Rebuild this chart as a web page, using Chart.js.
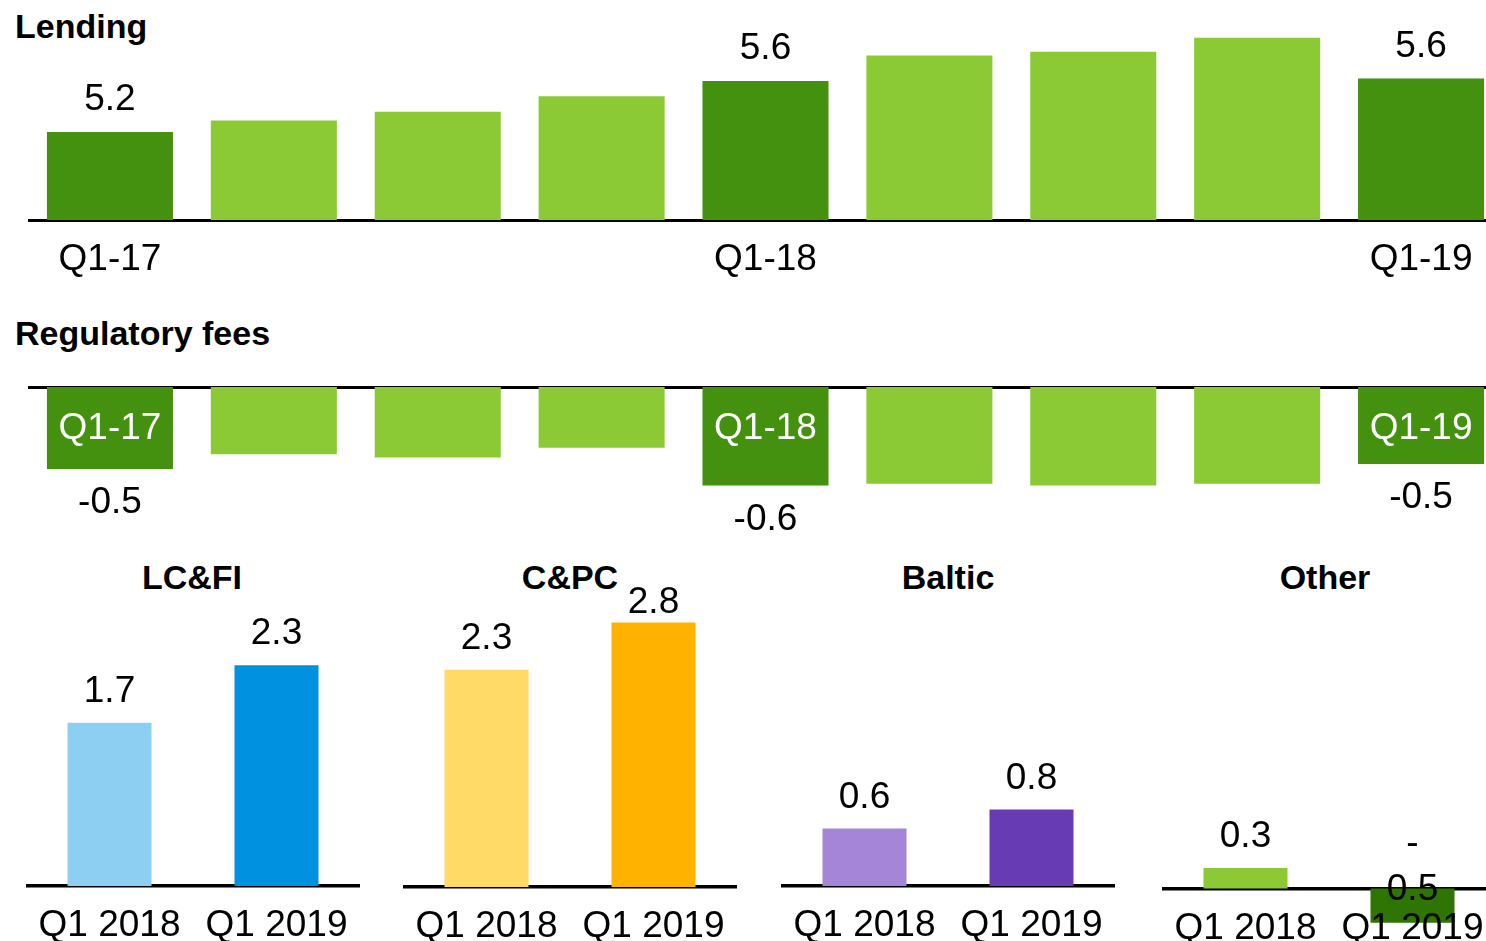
<!DOCTYPE html>
<html>
<head>
<meta charset="utf-8">
<script src="https://cdn.jsdelivr.net/npm/chart.js@4.4.0/dist/chart.umd.min.js"></script>
<style>
  html, body { margin: 0; padding: 0; background: #fff; overflow: hidden; }
  body { width: 1486px; height: 941px; position: relative; font-family: "Liberation Sans", Arial, sans-serif; }
  canvas { position: absolute; }
  .title { position: absolute; font-weight: bold; font-size: 34px; line-height: 34px; color: #000; white-space: nowrap; }
  .seg { width: 300px; text-align: center; }
</style>
</head>
<body>
<div class="title" style="left:15px; top:9px">Lending</div>
<div class="title" style="left:15px; top:316px">Regulatory fees</div>
<div class="title seg" style="left:42px; top:560px">LC&amp;FI</div>
<div class="title seg" style="left:420px; top:560px">C&amp;PC</div>
<div class="title seg" style="left:798px; top:560px">Baltic</div>
<div class="title seg" style="left:1175px; top:560px">Other</div>

<canvas id="lending" width="1475" height="290" style="left:28px; top:0px"></canvas>
<canvas id="fees" width="1475" height="190" style="left:28px; top:370px"></canvas>
<canvas id="lcfi" width="334" height="381" style="left:26px; top:560px"></canvas>
<canvas id="cpc" width="334" height="381" style="left:403px; top:560px"></canvas>
<canvas id="baltic" width="334" height="381" style="left:781px; top:560px"></canvas>
<canvas id="other" width="334" height="381" style="left:1162px; top:560px"></canvas>

<script>
// kvartal
const quarters = ['Q1-17', 'Q2-17', 'Q3-17', 'Q4-17', 'Q1-18', 'Q2-18', 'Q3-18', 'Q4-18', 'Q1-19']
const lendingValues = [5.2, 5.29, 5.36, 5.48, 5.6, 5.8, 5.83, 5.94, 5.62]
const feesValues = [-0.5, -0.41, -0.43, -0.37, -0.6, -0.59, -0.6, -0.59, -0.47]
const labelledQuarters = [0, 4, 8]

// segment
const periods = ['Q1 2018', 'Q1 2019']
const lcfiValues = [1.7, 2.3]
const cpcValues = [2.3, 2.8]
const balticValues = [0.6, 0.8]
const otherValues = [0.3, -0.5]

const FONT = '"Liberation Sans", Arial, sans-serif'
const DARK_GREEN = '#43910e'
const LIGHT_GREEN = '#8bc935'

Chart.defaults.font.family = FONT
Chart.defaults.color = '#000'

// siffror ovanför / under staplarna
const valueLabels = {
  id: 'valueLabels',
  afterDatasetsDraw(chart, args, opts) {
    const ctx = chart.ctx
    const meta = chart.getDatasetMeta(0)
    const values = chart.data.datasets[0].data
    ctx.save()
    ctx.font = '37px ' + FONT
    ctx.fillStyle = '#000'
    ctx.textAlign = 'center'
    ctx.textBaseline = 'middle'
    meta.data.forEach((bar, i) => {
      if (opts.only && opts.only.indexOf(i) < 0) return
      const v = values[i]
      const text = v.toFixed(1)
      if (v >= 0) {
        const y = Math.max(bar.y - opts.gap, chart.chartArea.top + 3)
        ctx.fillText(text, bar.x, y)
      } else if (opts.split) {
        const zero = chart.scales.y.getPixelForValue(0)
        ctx.fillText('-', bar.x, zero - 45)
        ctx.fillText(text.slice(1), bar.x, zero + 1)
      } else {
        ctx.fillText(text, bar.x, bar.y + opts.gap)
      }
    })
    ctx.restore()
  }
}

// kvartalsnamn i vitt inne i staplarna
const insideLabels = {
  id: 'insideLabels',
  afterDatasetsDraw(chart, args, opts) {
    if (!opts.show) return
    const ctx = chart.ctx
    const x = chart.scales.x
    ctx.save()
    ctx.font = '37px ' + FONT
    ctx.fillStyle = '#fff'
    ctx.textAlign = 'center'
    ctx.textBaseline = 'middle'
    chart.data.labels.forEach((l, i) => {
      if (!l.startsWith('Q1')) return
      ctx.fillText(l, x.getPixelForValue(i), chart.chartArea.top + 42)
    })
    ctx.restore()
  }
}

const quarterColors = quarters.map(q => q.startsWith('Q1') ? DARK_GREEN : LIGHT_GREEN)

const common = {
  responsive: false,
  animation: false,
  events: [],
  plugins: { legend: { display: false }, tooltip: { enabled: false } }
}

// etiketterna får inte krympa ritytan i sidled
function noSidePadding(s) {
  s.paddingLeft = 0
  s.paddingRight = 0
}

new Chart(document.getElementById('lending'), {
  type: 'bar',
  data: {
    labels: quarters,
    datasets: [{ data: lendingValues, backgroundColor: quarterColors, categoryPercentage: 1, barPercentage: 0.769 }]
  },
  options: {
    ...common,
    layout: { padding: { top: 20, left: 0, right: 0, bottom: 0 } },
    plugins: { ...common.plugins, valueLabels: { only: labelledQuarters, gap: 32 } },
    scales: {
      x: {
        grid: { display: false, drawTicks: false },
        border: { display: true, color: '#000', width: 3 },
        ticks: {
          autoSkip: false, maxRotation: 0, padding: 18, color: '#000',
          font: { size: 37 },
          callback: function (v) { const l = this.getLabelForValue(v); return l.startsWith('Q1') ? l : '' }
        },
        afterFit: s => { s.height = 70; noSidePadding(s) }
      },
      y: { display: false, beginAtZero: false, min: 4.51, max: 6.079 }
    }
  },
  plugins: [valueLabels]
})

new Chart(document.getElementById('fees'), {
  type: 'bar',
  data: {
    labels: quarters,
    datasets: [{ data: feesValues, backgroundColor: quarterColors, categoryPercentage: 1, barPercentage: 0.769 }]
  },
  options: {
    ...common,
    layout: { padding: 0 },
    plugins: { ...common.plugins, valueLabels: { only: labelledQuarters, gap: 34 }, insideLabels: { show: true } },
    scales: {
      x: {
        position: 'top',
        grid: { display: false, drawTicks: false },
        border: { display: true, color: '#000', width: 3 },
        ticks: { display: false },
        afterFit: s => { s.height = 17; noSidePadding(s) }
      },
      y: { display: false, min: -1.055, max: 0 }
    }
  },
  plugins: [valueLabels, insideLabels]
})

function segmentChart(id, values, colors, yMin, yMax, bottomPad) {
  return new Chart(document.getElementById(id), {
    type: 'bar',
    data: {
      labels: periods,
      datasets: [{ data: values, backgroundColor: colors, categoryPercentage: 1, barPercentage: 0.503 }]
    },
    options: {
      ...common,
      layout: { padding: { top: 40, left: 0, right: 0, bottom: bottomPad } },
      plugins: { ...common.plugins, valueLabels: { gap: 31, split: true } },
      scales: {
        x: {
          position: { y: 0 },
          grid: { display: false, drawTicks: false },
          border: { display: true, color: '#000', width: 3.5 },
          ticks: { autoSkip: false, maxRotation: 0, padding: 18, color: '#000', font: { size: 37 }, z: 1 },
          afterFit: noSidePadding
        },
        y: { display: false, beginAtZero: false, min: yMin, max: yMax }
      }
    },
    plugins: [valueLabels]
  })
}

segmentChart('lcfi', lcfiValues, ['#8dcff3', '#0092e0'], 0, 2.979, 55)
segmentChart('cpc', cpcValues, ['#ffda66', '#ffb300'], 0, 3.037, 54)
segmentChart('baltic', balticValues, ['#a485d8', '#673bb4'], 0, 2.99, 55)
segmentChart('other', otherValues, [LIGHT_GREEN, '#2e7503'], -0.768, 4.218, 0)
</script>
</body>
</html>
